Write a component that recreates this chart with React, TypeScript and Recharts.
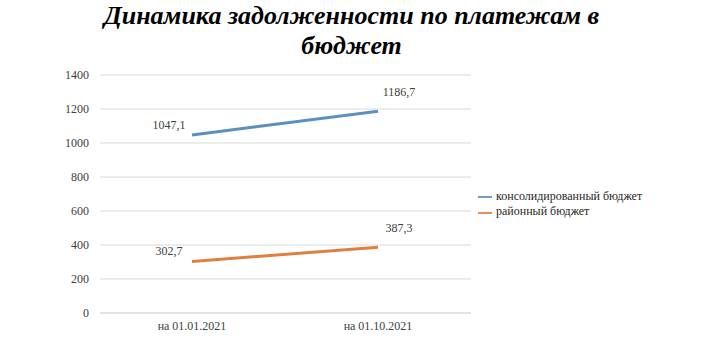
import React from 'react';
import { LineChart, Line, XAxis, YAxis, CartesianGrid, Legend } from 'recharts';

const categories = ['на 01.01.2021', 'на 01.10.2021'];
const consolidated = [1047.1, 1186.7];
const district = [302.7, 387.3];
const yTicks = [0, 200, 400, 600, 800, 1000, 1200, 1400];

const data = categories.map((c, i) => ({
  name: c,
  cons: consolidated[i],
  dist: district[i],
}));

const FONT = '"Liberation Serif", serif';

function PointLabel(props: any) {
  const { x, y, value, index } = props;
  const dx = index === 0 ? -23 : 21;
  const dy = index === 0 ? -9 : -18;
  return (
    <text
      x={x + dx}
      y={y + dy}
      textAnchor="middle"
      dominantBaseline="middle"
      fontFamily={FONT}
      fontSize={12}
      fill="#404040"
    >
      {String(value).replace('.', ',')}
    </text>
  );
}

export default function App() {
  return (
    <div style={{ position: 'absolute', left: 0, top: 0, width: 703, height: 356, background: '#fff', fontFamily: FONT }}>
      <div
        style={{
          position: 'absolute',
          left: 0,
          top: 1,
          width: 703,
          textAlign: 'center',
          fontWeight: 'bold',
          fontStyle: 'italic',
          fontSize: 26,
          lineHeight: '30px',
          color: '#000',
        }}
      >
        Динамика задолженности по платежам в
        <br />
        бюджет
      </div>
      <LineChart width={703} height={356} data={data} margin={{ top: 75, right: 52, bottom: 13, left: 40 }}>
        <CartesianGrid vertical={false} stroke="#d9d9d9" />
        <XAxis
          dataKey="name"
          tickLine={false}
          padding={{ left: 92, right: 93 }}
          axisLine={{ stroke: '#d9d9d9' }}
          tick={{ fontFamily: FONT, fontSize: 12, fill: '#404040' }}
        />
        <YAxis
          width={60}
          domain={[0, 1400]}
          ticks={yTicks}
          tickLine={false}
          axisLine={false}
          tickMargin={5}
          tick={{ fontFamily: FONT, fontSize: 12, fill: '#404040' }}
        />
        <Legend
          layout="vertical"
          align="right"
          verticalAlign="middle"
          width={180}
          iconType="plainline"
          iconSize={14}
          wrapperStyle={{ top: 189, left: 478, right: 'auto', fontFamily: FONT, fontSize: 12 }}
          formatter={(v: string) => <span style={{ color: '#262626' }}>{v}</span>}
        />
        <Line
          dataKey="cons"
          name="консолидированный бюджет"
          stroke="#5b8ec4"
          strokeWidth={3}
          dot={false}
          isAnimationActive={false}
          label={<PointLabel />}
        />
        <Line
          dataKey="dist"
          name="районный бюджет"
          stroke="#e0803f"
          strokeWidth={3}
          dot={false}
          isAnimationActive={false}
          label={<PointLabel />}
        />
      </LineChart>
    </div>
  );
}
